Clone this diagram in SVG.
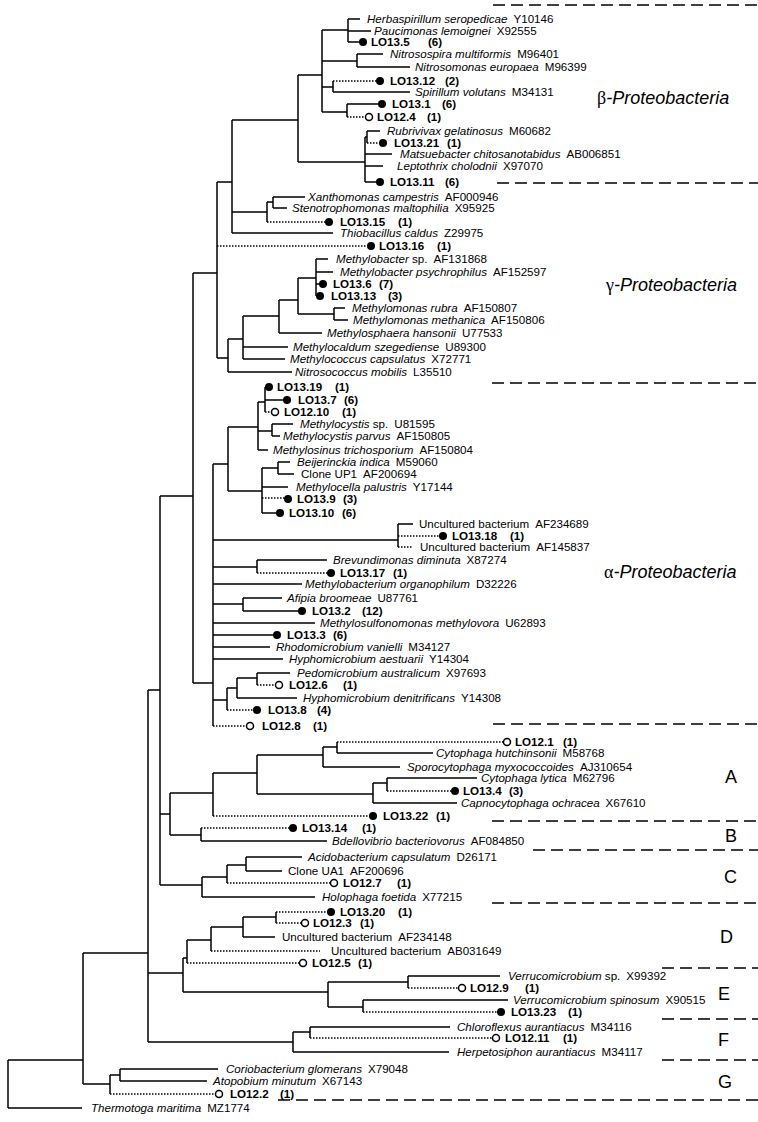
<svg xmlns="http://www.w3.org/2000/svg" width="758" height="1122" viewBox="0 0 758 1122">
<style>
text{font-family:"Liberation Sans",Arial,sans-serif;font-size:11.6px;fill:#000}
.i{font-style:italic}
.b{font-weight:bold}
.e{fill:none;stroke:#000;stroke-width:1.5}
.d{fill:none;stroke:#000;stroke-width:1.5;stroke-dasharray:1.5 1.5}
.sep{fill:none;stroke:#000;stroke-width:1.4;stroke-dasharray:12 6}
.f{fill:#000}
.o{fill:#fff;stroke:#000;stroke-width:1.5}
.g{font-size:18px}
.gr{font-family:"Liberation Serif","DejaVu Serif",serif;font-style:normal}
</style>
<rect width="758" height="1122" fill="#fff"/>
<g id="connectors">
<path class="e" d="M348 19V42M348 19H360M348 31H371M348 42H363M322 30H348M357 54V67M357 54H383M357 67H410M322 61H357M333 81V92M333 92H410M322 87H333M347 104V117M347 104H382M322 112H347M322 30V112M298 75H322M367 131V143M367 131H380M365 137H367M365 137V182M365 154H392M365 166H383M365 182H380M298 162H365M298 75V162M232 120H298M232 120V233M273 197V208M273 197H305M273 208H287M267 202H273M267 202V222M232 212H267M232 233H333M217 182H232"/>
<path class="e" d="M316 259V296M316 259H328M316 272H333M316 284H323M316 296H320M298 278H316M334 308V320M334 308H345M334 320H348M298 314H334M298 278V314M279 300H298M279 333H322M279 300V333M243 316H279M243 347H288M243 359H285M243 316V359M228 339H243M228 372H292M228 339V372M217 358H228M217 182V358M193 273H217"/>
<path class="e" d="M265 387V412M265 387H269M265 400H287M258 402H265M272 424V436M272 424H293M272 436H280M258 431H272M258 450H268M258 402V450M228 427H258M278 462V474M278 462H290M278 474H294M262 468H278M262 487H288M262 513H280M262 468V513M228 491H262M228 427V491M213 464H228M213 540H398M398 524V547M398 524H413M257 560V573M257 560H327M213 567H257M213 584H302M243 598V611M243 598H282M243 611H302M213 604H243M213 623H315M213 635H277M213 647H270M213 659H283M257 673V685M257 673H290M237 678H257M237 698H297M237 678V698M227 688H237M227 688V710M213 700H227M213 464V726M193 683H213M193 273V683"/>
<path class="e" d="M337 742V753M337 753H433M323 747H337M323 767H400M323 747V767M257 755H323M387 778V791M387 778H477M373 783H387M373 803H457M373 783V803M257 794H373M257 755V794M213 773H257M213 773V816M201 828V841M201 841H327M246 857V871M246 857H302M246 871H282M227 865H246M227 865V883M202 877H227M202 897H315M202 877V897"/>
<path class="e" d="M276 912V923M243 917H276M243 937H275M243 917V937M211 927H243M211 927V951M187 940H211M187 940V963M183 958H187M183 958V992M408 976V988M408 976H500M328 982H408M363 1000V1012M363 1000H508M328 1007H363M328 982V1007M183 992H328M310 1027V1038M310 1027H450M293 1032H310M293 1052H449M293 1032V1052M148 1042H293M148 973H183M120 1069V1081M120 1069H218M120 1081H207M110 1075H120M110 1075V1094M83 1084H110M83 953H148M83 953V1084M8 1060H83M8 1108H82M8 1060V1108"/>
<path class="e" d="M170 793V835M170 793H213M170 835H201M160 814H170M160 496H193M160 496V885M160 885H202M148 690H160M148 690V1042"/>
<path class="d" d="M333 81H380M347 117H369M367 143H383M267 222H329M217 246H371M265 412H275M262 498H288M398 536H443M398 547H412M257 573H331M257 685H279M227 710H257M213 726H250M337 742H507M387 791H455M213 816H373M201 828H293M227 883H334M276 912H331M276 923H305M211 951H320M187 963H303M408 988H462M363 1012H501M310 1038H496M110 1094H219"/>
</g>
<g id="separators">
<path class="sep" d="M493 5H758M497 183H758M492 383H758M493 724H758M492 821H758M533 850H758M492 903H758M662 968H758M662 1019H758M662 1060H758M278 1100H758"/>
</g>
<g id="group-labels">
<text class="g" x="597" y="104"><tspan class="gr">β</tspan><tspan class="i">-Proteobacteria</tspan></text>
<text class="g" x="606" y="291"><tspan class="gr">γ</tspan><tspan class="i">-Proteobacteria</tspan></text>
<text class="g" x="604" y="578"><tspan class="gr">α</tspan><tspan class="i">-Proteobacteria</tspan></text>
<text class="g" x="725" y="783">A</text>
<text class="g" x="725" y="842">B</text>
<text class="g" x="724" y="883">C</text>
<text class="g" x="720" y="943">D</text>
<text class="g" x="718" y="1000">E</text>
<text class="g" x="718" y="1046">F</text>
<text class="g" x="718" y="1088">G</text>
</g>
<g id="n1"><text x="367" y="23"><tspan class="i">Herbaspirillum seropedicae</tspan><tspan dx="6">Y10146</tspan></text></g>
<g id="n2"><text x="374" y="35"><tspan class="i">Paucimonas lemoignei</tspan><tspan dx="6">X92555</tspan></text></g>
<g id="n3"><circle class="f" cx="363" cy="42" r="4"/><text class="b" x="371" y="46">LO13.5<tspan x="428">(6)</tspan></text></g>
<g id="n4"><text x="390" y="58"><tspan class="i">Nitrosospira multiformis</tspan><tspan dx="6">M96401</tspan></text></g>
<g id="n5"><text x="415" y="71"><tspan class="i">Nitrosomonas europaea</tspan><tspan dx="6">M96399</tspan></text></g>
<g id="n6"><circle class="f" cx="380" cy="81" r="4"/><text class="b" x="390" y="85">LO13.12<tspan x="445">(2)</tspan></text></g>
<g id="n7"><text x="415" y="96"><tspan class="i">Spirillum volutans</tspan><tspan dx="6">M34131</tspan></text></g>
<g id="n8"><circle class="f" cx="382" cy="104" r="4"/><text class="b" x="392" y="108">LO13.1<tspan x="442">(6)</tspan></text></g>
<g id="n9"><circle class="o" cx="369" cy="117" r="3.5"/><text class="b" x="377" y="121">LO12.4<tspan x="427">(1)</tspan></text></g>
<g id="n10"><text x="387" y="135"><tspan class="i">Rubrivivax gelatinosus</tspan><tspan dx="6">M60682</tspan></text></g>
<g id="n11"><circle class="f" cx="383" cy="143" r="4"/><text class="b" x="394" y="147">LO13.21<tspan x="447">(1)</tspan></text></g>
<g id="n12"><text x="400" y="158"><tspan class="i">Matsuebacter chitosanotabidus</tspan><tspan dx="6">AB006851</tspan></text></g>
<g id="n13"><text x="397" y="170"><tspan class="i">Leptothrix cholodnii</tspan><tspan dx="6">X97070</tspan></text></g>
<g id="n14"><circle class="f" cx="380" cy="182" r="4"/><text class="b" x="390" y="186">LO13.11<tspan x="445">(6)</tspan></text></g>
<g id="n15"><text x="308" y="201"><tspan class="i">Xanthomonas campestris</tspan><tspan dx="6">AF000946</tspan></text></g>
<g id="n16"><text x="292" y="212"><tspan class="i">Stenotrophomonas maltophilia</tspan><tspan dx="6">X95925</tspan></text></g>
<g id="n17"><circle class="f" cx="329" cy="222" r="4"/><text class="b" x="340" y="226">LO13.15<tspan x="398">(1)</tspan></text></g>
<g id="n18"><text x="340" y="237"><tspan class="i">Thiobacillus caldus</tspan><tspan dx="6">Z29975</tspan></text></g>
<g id="n19"><circle class="f" cx="371" cy="246" r="4"/><text class="b" x="379" y="250">LO13.16<tspan x="437">(1)</tspan></text></g>
<g id="n20"><text x="336" y="263"><tspan class="i">Methylobacter</tspan> sp.<tspan dx="6">AF131868</tspan></text></g>
<g id="n21"><text x="340" y="276"><tspan class="i">Methylobacter psychrophilus</tspan><tspan dx="6">AF152597</tspan></text></g>
<g id="n22"><circle class="f" cx="323" cy="284" r="4"/><text class="b" x="333" y="288">LO13.6<tspan x="379">(7)</tspan></text></g>
<g id="n23"><circle class="f" cx="320" cy="296" r="4"/><text class="b" x="331" y="300">LO13.13<tspan x="388">(3)</tspan></text></g>
<g id="n24"><text x="352" y="312"><tspan class="i">Methylomonas rubra</tspan><tspan dx="6">AF150807</tspan></text></g>
<g id="n25"><text x="353" y="324"><tspan class="i">Methylomonas methanica</tspan><tspan dx="6">AF150806</tspan></text></g>
<g id="n26"><text x="327" y="337"><tspan class="i">Methylosphaera hansonii</tspan><tspan dx="6">U77533</tspan></text></g>
<g id="n27"><text x="293" y="351"><tspan class="i">Methylocaldum szegediense</tspan><tspan dx="6">U89300</tspan></text></g>
<g id="n28"><text x="290" y="363"><tspan class="i">Methylococcus capsulatus</tspan><tspan dx="6">X72771</tspan></text></g>
<g id="n29"><text x="295" y="376"><tspan class="i">Nitrosococcus mobilis</tspan><tspan dx="6">L35510</tspan></text></g>
<g id="n30"><circle class="f" cx="269" cy="387" r="4"/><text class="b" x="277" y="391">LO13.19<tspan x="335">(1)</tspan></text></g>
<g id="n31"><circle class="f" cx="287" cy="400" r="4"/><text class="b" x="298" y="404">LO13.7<tspan x="344">(6)</tspan></text></g>
<g id="n32"><circle class="o" cx="275" cy="412" r="3.5"/><text class="b" x="284" y="416">LO12.10<tspan x="342">(1)</tspan></text></g>
<g id="n33"><text x="300" y="428"><tspan class="i">Methylocystis</tspan> sp.<tspan dx="6">U81595</tspan></text></g>
<g id="n34"><text x="283" y="440"><tspan class="i">Methylocystis parvus</tspan><tspan dx="6">AF150805</tspan></text></g>
<g id="n35"><text x="273" y="454"><tspan class="i">Methylosinus trichosporium</tspan><tspan dx="6">AF150804</tspan></text></g>
<g id="n36"><text x="297" y="466"><tspan class="i">Beijerinckia indica</tspan><tspan dx="6">M59060</tspan></text></g>
<g id="n37"><text x="301" y="478">Clone UP1<tspan dx="6">AF200694</tspan></text></g>
<g id="n38"><text x="296" y="491"><tspan class="i">Methylocella palustris</tspan><tspan dx="6">Y17144</tspan></text></g>
<g id="n39"><circle class="f" cx="288" cy="499" r="4"/><text class="b" x="297" y="503">LO13.9<tspan x="343">(3)</tspan></text></g>
<g id="n40"><circle class="f" cx="280" cy="513" r="4"/><text class="b" x="289" y="517">LO13.10<tspan x="342">(6)</tspan></text></g>
<g id="n41"><text x="419" y="528">Uncultured bacterium<tspan dx="6">AF234689</tspan></text></g>
<g id="n42"><circle class="f" cx="443" cy="536" r="4"/><text class="b" x="452" y="540">LO13.18<tspan x="510">(1)</tspan></text></g>
<g id="n43"><text x="420" y="551">Uncultured bacterium<tspan dx="6">AF145837</tspan></text></g>
<g id="n44"><text x="333" y="564"><tspan class="i">Brevundimonas diminuta</tspan><tspan dx="6">X87274</tspan></text></g>
<g id="n45"><circle class="f" cx="331" cy="573" r="4"/><text class="b" x="340" y="577">LO13.17<tspan x="393">(1)</tspan></text></g>
<g id="n46"><text x="305" y="588"><tspan class="i">Methylobacterium organophilum</tspan><tspan dx="6">D32226</tspan></text></g>
<g id="n47"><text x="287" y="602"><tspan class="i">Afipia broomeae</tspan><tspan dx="6">U87761</tspan></text></g>
<g id="n48"><circle class="f" cx="302" cy="611" r="4"/><text class="b" x="312" y="615">LO13.2<tspan x="362">(12)</tspan></text></g>
<g id="n49"><text x="320" y="627"><tspan class="i">Methylosulfonomonas methylovora</tspan><tspan dx="6">U62893</tspan></text></g>
<g id="n50"><circle class="f" cx="277" cy="635" r="4"/><text class="b" x="287" y="639">LO13.3<tspan x="333">(6)</tspan></text></g>
<g id="n51"><text x="276" y="651"><tspan class="i">Rhodomicrobium vanielli</tspan><tspan dx="6">M34127</tspan></text></g>
<g id="n52"><text x="289" y="663"><tspan class="i">Hyphomicrobium aestuarii</tspan><tspan dx="6">Y14304</tspan></text></g>
<g id="n53"><text x="297" y="677"><tspan class="i">Pedomicrobium australicum</tspan><tspan dx="6">X97693</tspan></text></g>
<g id="n54"><circle class="o" cx="279" cy="685" r="3.5"/><text class="b" x="289" y="689">LO12.6<tspan x="343">(1)</tspan></text></g>
<g id="n55"><text x="303" y="702"><tspan class="i">Hyphomicrobium denitrificans</tspan><tspan dx="6">Y14308</tspan></text></g>
<g id="n56"><circle class="f" cx="257" cy="710" r="4"/><text class="b" x="268" y="714">LO13.8<tspan x="317">(4)</tspan></text></g>
<g id="n57"><circle class="o" cx="250" cy="726" r="3.5"/><text class="b" x="262" y="730">LO12.8<tspan x="313">(1)</tspan></text></g>
<g id="n58"><circle class="o" cx="507" cy="742" r="3.5"/><text class="b" x="515" y="746">LO12.1<tspan x="563">(1)</tspan></text></g>
<g id="n59"><text x="436" y="757"><tspan class="i">Cytophaga hutchinsonii</tspan><tspan dx="6">M58768</tspan></text></g>
<g id="n60"><text x="407" y="771"><tspan class="i">Sporocytophaga myxococcoides</tspan><tspan dx="6">AJ310654</tspan></text></g>
<g id="n61"><text x="481" y="782"><tspan class="i">Cytophaga lytica</tspan><tspan dx="6">M62796</tspan></text></g>
<g id="n62"><circle class="f" cx="455" cy="791" r="4"/><text class="b" x="463" y="795">LO13.4<tspan x="509">(3)</tspan></text></g>
<g id="n63"><text x="461" y="807"><tspan class="i">Capnocytophaga ochracea</tspan><tspan dx="6">X67610</tspan></text></g>
<g id="n64"><circle class="f" cx="373" cy="816" r="4"/><text class="b" x="383" y="820">LO13.22<tspan x="436">(1)</tspan></text></g>
<g id="n65"><circle class="f" cx="293" cy="828" r="4"/><text class="b" x="302" y="832">LO13.14<tspan x="362">(1)</tspan></text></g>
<g id="n66"><text x="332" y="845"><tspan class="i">Bdellovibrio bacteriovorus</tspan><tspan dx="6">AF084850</tspan></text></g>
<g id="n67"><text x="308" y="861"><tspan class="i">Acidobacterium capsulatum</tspan><tspan dx="6">D26171</tspan></text></g>
<g id="n68"><text x="288" y="875">Clone UA1<tspan dx="6">AF200696</tspan></text></g>
<g id="n69"><circle class="o" cx="334" cy="883" r="3.5"/><text class="b" x="343" y="887">LO12.7<tspan x="397">(1)</tspan></text></g>
<g id="n70"><text x="322" y="901"><tspan class="i">Holophaga foetida</tspan><tspan dx="6">X77215</tspan></text></g>
<g id="n71"><circle class="f" cx="331" cy="912" r="4"/><text class="b" x="340" y="916">LO13.20<tspan x="398">(1)</tspan></text></g>
<g id="n72"><circle class="o" cx="305" cy="923" r="3.5"/><text class="b" x="313" y="927">LO12.3<tspan x="360">(1)</tspan></text></g>
<g id="n73"><text x="282" y="941">Uncultured bacterium<tspan dx="6">AF234148</tspan></text></g>
<g id="n74"><text x="331" y="955">Uncultured bacterium<tspan dx="6">AB031649</tspan></text></g>
<g id="n75"><circle class="o" cx="303" cy="963" r="3.5"/><text class="b" x="312" y="967">LO12.5<tspan x="358">(1)</tspan></text></g>
<g id="n76"><text x="508" y="980"><tspan class="i">Verrucomicrobium</tspan> sp.<tspan dx="6">X99392</tspan></text></g>
<g id="n77"><circle class="o" cx="462" cy="988" r="3.5"/><text class="b" x="470" y="992">LO12.9<tspan x="525">(1)</tspan></text></g>
<g id="n78"><text x="513" y="1004"><tspan class="i">Verrucomicrobium spinosum</tspan><tspan dx="6">X90515</tspan></text></g>
<g id="n79"><circle class="f" cx="501" cy="1012" r="4"/><text class="b" x="511" y="1016">LO13.23<tspan x="568">(1)</tspan></text></g>
<g id="n80"><text x="457" y="1031"><tspan class="i">Chloroflexus aurantiacus</tspan><tspan dx="6">M34116</tspan></text></g>
<g id="n81"><circle class="o" cx="496" cy="1038" r="3.5"/><text class="b" x="505" y="1042">LO12.11<tspan x="563">(1)</tspan></text></g>
<g id="n82"><text x="457" y="1056"><tspan class="i">Herpetosiphon aurantiacus</tspan><tspan dx="6">M34117</tspan></text></g>
<g id="n83"><text x="226" y="1073"><tspan class="i">Coriobacterium glomerans</tspan><tspan dx="6">X79048</tspan></text></g>
<g id="n84"><text x="213" y="1085"><tspan class="i">Atopobium minutum</tspan><tspan dx="6">X67143</tspan></text></g>
<g id="n85"><circle class="o" cx="219" cy="1094" r="3.5"/><text class="b" x="230" y="1098">LO12.2<tspan x="280">(1)</tspan></text></g>
<g id="n86"><text x="91" y="1112"><tspan class="i">Thermotoga maritima</tspan><tspan dx="6">MZ1774</tspan></text></g>
</svg>
